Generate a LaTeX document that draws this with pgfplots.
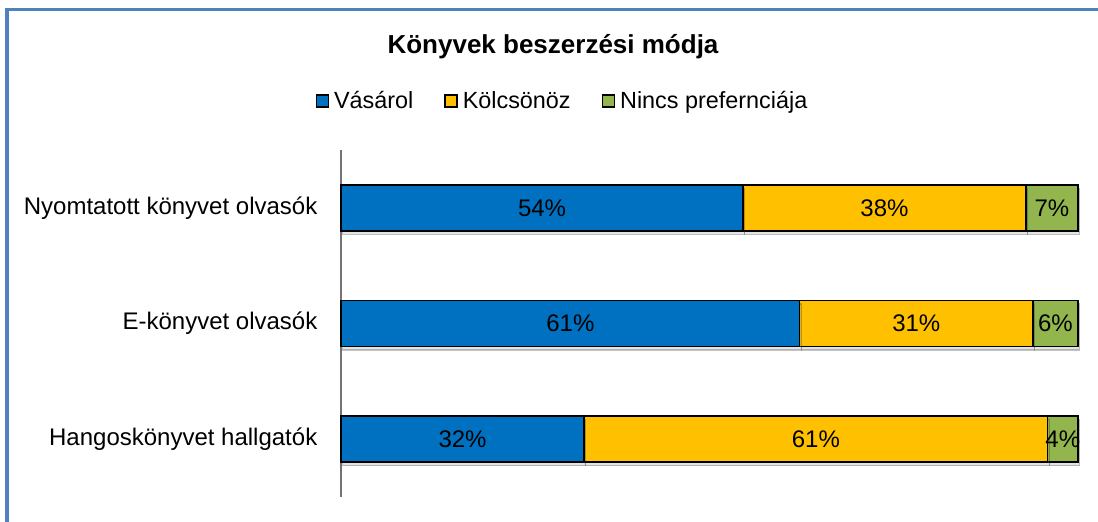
\documentclass[border=0pt]{standalone}
\usepackage{pgfplots}
\usepackage{pgfplotstable}
\pgfplotsset{compat=1.18}
\usepackage{fontspec}
\setmainfont{Liberation Sans}
\usetikzlibrary{shadows}
\definecolor{cBlue}{HTML}{0070C0}
\definecolor{cYellow}{HTML}{FFC000}
\definecolor{cGreen}{HTML}{92B54D}
\definecolor{cFrame}{HTML}{4F81BD}

% len = bar length in the 100% stacked bar, lab = shown percentage
\pgfplotstableread{
pos len lab
0 54.55 54
1 62.24 61
2 32.99 32
}\vasarol
\pgfplotstableread{
pos len lab
0 38.38 38
1 31.63 31
2 62.89 61
}\kolcsonoz
\pgfplotstableread{
pos len lab
0 7.07 7
1 6.12 6
2 4.12 4
}\nincs

\begin{document}
\begin{tikzpicture}
\useasboundingbox (0,0) rectangle (549pt,260.5pt);
\draw[cFrame, line width=1.6pt] (3.5pt,-5pt) -- (3.5pt,255.75pt) -- (560pt,255.75pt);
\begin{axis}[
  at={(170.5pt,12pt)}, anchor=south west,
  scale only axis, width=368.5pt, height=173.5pt,
  xbar stacked, bar width=23pt,
  xmin=0, xmax=100, ymin=-0.5, ymax=2.5, y dir=reverse,
  axis x line=none, axis y line=left,
  y axis line style={-, draw=gray!90!black, line width=0.7pt},
  ytick={0,1,2},
  yticklabels={Nyomtatott könyvet olvasók, E-könyvet olvasók, Hangoskönyvet hallgatók},
  ytick style={draw=none},
  yticklabel style={font=\fontsize{12}{14}\selectfont, inner sep=0pt, xshift=-9.5pt},
  title={Könyvek beszerzési módja},
  title style={at={(0.2877,1.262)}, anchor=center, font=\bfseries\fontsize{13}{15}\selectfont},
  legend style={at={(0.2992,1.141)}, anchor=center, draw=none, fill=none,
    font=\fontsize{11.7}{14}\selectfont, legend columns=3,
    nodes={inner xsep=0pt, inner ysep=2pt},
    /tikz/every odd column/.append style={column sep=2.5pt},
    /tikz/every even column/.append style={column sep=15.5pt}},
  legend image code/.code={\draw[#1, draw=black, line width=0.7pt] (0pt,-3pt) rectangle (6pt,3pt);},
  point meta=explicit symbolic,
  nodes near coords={\pgfplotspointmeta\%},
  every node near coord/.append style={font=\fontsize{12}{14}\selectfont, text=black, anchor=center,
    inner sep=0pt},
  clip=false,
]
\addplot[forget plot, fill=cBlue, draw=black, line width=0.7pt,
  drop shadow={shadow xshift=0.8pt, shadow yshift=-1.8pt, opacity=0.22}]
  table[x=len, y=pos, meta=lab] {\vasarol};
\addplot[forget plot, fill=cYellow, draw=black, line width=0.7pt,
  drop shadow={shadow xshift=0.8pt, shadow yshift=-1.8pt, opacity=0.22}]
  table[x=len, y=pos, meta=lab] {\kolcsonoz};
\addplot[forget plot, fill=cGreen, draw=black, line width=0.7pt,
  drop shadow={shadow xshift=0.8pt, shadow yshift=-1.8pt, opacity=0.22}]
  table[x=len, y=pos, meta=lab] {\nincs};
\addlegendimage{fill=cBlue}
\addlegendentry{Vásárol}
\addlegendimage{fill=cYellow}
\addlegendentry{Kölcsönöz}
\addlegendimage{fill=cGreen}
\addlegendentry{Nincs prefernciája}
\end{axis}
\end{tikzpicture}
\end{document}
